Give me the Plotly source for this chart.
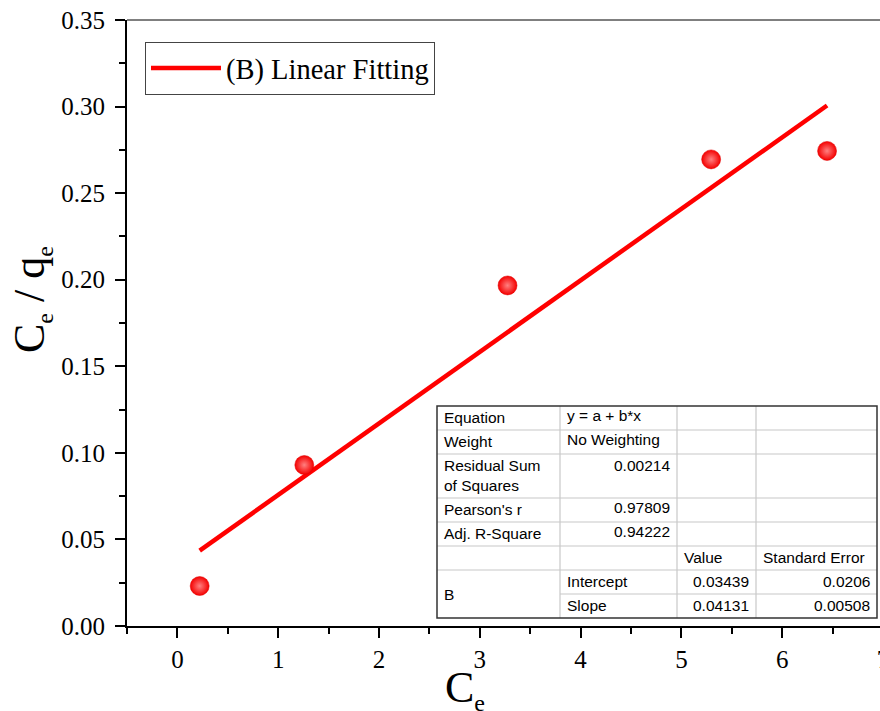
import plotly.graph_objects as go

# ---------------- data ----------------
ce = [0.221, 1.259, 3.275, 5.295, 6.445]
ce_over_qe = [0.0231, 0.0930, 0.1967, 0.2695, 0.2744]

fit_a = 0.03439
fit_b = 0.04131
fit_label = "(B) Linear Fitting"

x_ticks = [0, 1, 2, 3, 4, 5, 6, 7]
y_ticks = [0.00, 0.05, 0.10, 0.15, 0.20, 0.25, 0.30, 0.35]

table_labels = ["Equation", "Weight", "Residual Sum<br>of Squares", "Pearson's r", "Adj. R-Square"]
table_values = ["y = a + b*x", "No Weighting", "0.00214", "0.97809", "0.94222"]
param_header = ["Value", "Standard Error"]
param_group = "B"
param_names = ["Intercept", "Slope"]
param_values = ["0.03439", "0.04131"]
param_errors = ["0.0206", "0.00508"]

# ---------------- layout geometry ----------------
W, H = 920, 711
L, R, T, B = 127, 0, 20, 85
PW, PH = W - L - R, H - T - B
PX_PER_X = 100.8


def px(xp):
    return (xp - L) / PW


def py(yp):
    return (H - B - yp) / PH


fig = go.Figure()

x_fit = [min(ce), max(ce)]
y_fit = [fit_a + fit_b * v for v in x_fit]

fig.add_trace(go.Scatter(
    x=x_fit, y=y_fit, mode="lines", name=fit_label,
    line=dict(color="#ff0000", width=4.5), showlegend=True,
))

fig.add_trace(go.Scatter(
    x=ce, y=ce_over_qe, mode="markers", showlegend=False,
    marker=dict(size=19, color="#f40000",
                gradient=dict(type="radial", color="#ff8080"),
                line=dict(width=0.5, color="#e00000")),
))

serif = "Liberation Serif, Times New Roman, serif"
sans = "Liberation Sans, Arial, sans-serif"

fig.update_layout(
    width=W, height=H,
    margin=dict(l=L, r=R, t=T, b=B, pad=0, autoexpand=False),
    paper_bgcolor="white", plot_bgcolor="white",
    font=dict(family=serif, color="black"),
    legend=dict(
        xref="paper", yref="paper",
        x=px(145), y=py(42), xanchor="left", yanchor="top",
        font=dict(family=serif, size=28.5, color="black"),
        bordercolor="#444", borderwidth=1, bgcolor="white",
        itemwidth=70,
    ),
    xaxis=dict(
        range=[-0.5, -0.5 + PW / PX_PER_X],
        tickmode="array", tickvals=x_ticks, ticktext=[str(v) for v in x_ticks],
        ticks="outside", ticklen=10, tickwidth=2, tickcolor="black",
        showline=True, linewidth=2, linecolor="black",
        showgrid=False, zeroline=False, automargin=False,
        tickfont=dict(family=serif, size=25, color="black"),
        minor=dict(ticks="outside", ticklen=6, tickwidth=2, tickcolor="black",
                   tickmode="linear", tick0=-0.5, dtick=1, showgrid=False),
    ),
    yaxis=dict(
        range=[0, 0.35],
        tickmode="array", tickvals=y_ticks, ticktext=[f"{v:.2f}" for v in y_ticks],
        ticks="outside", ticklen=10, tickwidth=2, tickcolor="black",
        showline=True, linewidth=2, linecolor="black",
        showgrid=False, zeroline=False, automargin=False,
        ticklabelstandoff=5,
        tickfont=dict(family=serif, size=25, color="black"),
        minor=dict(ticks="outside", ticklen=6, tickwidth=2, tickcolor="black",
                   tickmode="linear", tick0=0.025, dtick=0.05, showgrid=False),
    ),
)

shapes = []
annotations = []

# top frame line
shapes.append(dict(type="line", xref="paper", yref="paper", x0=0, x1=1, y0=1, y1=1,
                   line=dict(color="black", width=1)))

SUB = '<sub><span style="font-size:24px">e</span></sub>'

# axis titles
annotations.append(dict(
    text=f"C{SUB} / q{SUB}", xref="paper", yref="paper",
    x=px(31), y=py(300), xanchor="center", yanchor="middle", textangle=-90,
    showarrow=False, font=dict(family=serif, size=44, color="black"),
))
annotations.append(dict(
    text=f"C{SUB}", xref="paper", yref="paper",
    x=px(465), y=py(689), xanchor="center", yanchor="middle",
    showarrow=False, font=dict(family=serif, size=44, color="black"),
))

# ---------------- statistics table ----------------
cx = [437, 560, 677, 756, 877]
ry = [406, 430, 454, 498, 522, 546, 570, 594, 618]
grid_col = "#c8c8c8"

shapes.append(dict(type="rect", xref="paper", yref="paper",
                   x0=px(cx[0]), x1=px(cx[-1]), y0=py(ry[-1]), y1=py(ry[0]),
                   fillcolor="white", line=dict(width=0), layer="above"))
for i, yy in enumerate(ry[1:-1], start=1):
    x_start = cx[1] if i == 7 else cx[0]
    shapes.append(dict(type="line", xref="paper", yref="paper",
                       x0=px(x_start), x1=px(cx[-1]), y0=py(yy), y1=py(yy),
                       line=dict(color=grid_col, width=1.2), layer="above"))
for xx in cx[1:-1]:
    shapes.append(dict(type="line", xref="paper", yref="paper",
                       x0=px(xx), x1=px(xx), y0=py(ry[0]), y1=py(ry[-1]),
                       line=dict(color=grid_col, width=1.2), layer="above"))
shapes.append(dict(type="rect", xref="paper", yref="paper",
                   x0=px(cx[0]), x1=px(cx[-1]), y0=py(ry[-1]), y1=py(ry[0]),
                   line=dict(color="#333", width=1.5), layer="above"))

tf = dict(family=sans, size=15.5, color="black")
PAD = 5


def cell_text(text, col, r0, r1, align="left", valign="middle", dy=0):
    if align == "left":
        x = px(cx[col] + PAD)
        xa = "left"
    else:
        x = px(cx[col + 1] - PAD)
        xa = "right"
    if valign == "middle":
        y = py((ry[r0] + ry[r1]) / 2 + dy)
        ya = "middle"
    else:
        y = py(ry[r0] + 1 + dy)
        ya = "top"
    annotations.append(dict(text=text, xref="paper", yref="paper", x=x, y=y,
                            xanchor=xa, yanchor=ya, showarrow=False, font=tf,
                            align="left"))


for i, lab in enumerate(table_labels):
    cell_text(lab, 0, i, i + 1, "left", "middle", dy=-1)
for i, val in enumerate(table_values):
    if i < 2:
        cell_text(val, 1, i, i + 1, "left", "middle", dy=-3)
    elif i == 2:
        cell_text(val, 1, i, i + 1, "right", "top", dy=0)
    else:
        cell_text(val, 1, i, i + 1, "right", "middle", dy=-3)

cell_text(param_header[0], 2, 5, 6, "left", "middle", dy=-1)
cell_text(param_header[1], 3, 5, 6, "left", "middle", dy=-1)
cell_text(param_group, 0, 6, 8, "left", "middle")
for j in range(2):
    r = 6 + j
    cell_text(param_names[j], 1, r, r + 1, "left", "middle", dy=-1)
    cell_text(param_values[j], 2, r, r + 1, "right", "middle", dy=-1)
    cell_text(param_errors[j], 3, r, r + 1, "right", "middle", dy=-1)

fig.update_layout(shapes=shapes, annotations=annotations)

fig.write_html(
    "out.html",
    post_script="document.documentElement.style.overflow='hidden';document.body.style.overflow='hidden';document.body.style.margin='0';",
)
